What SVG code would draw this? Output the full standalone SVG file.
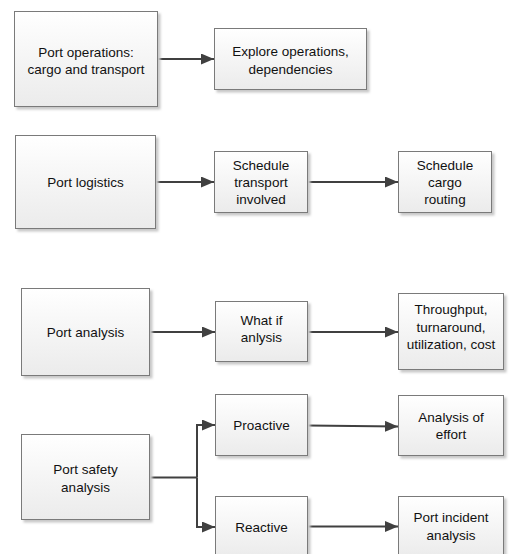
<svg xmlns="http://www.w3.org/2000/svg" width="516" height="554" viewBox="0 0 516 554">
  <defs>
    <linearGradient id="boxFill" x1="0" y1="0" x2="0" y2="1">
      <stop offset="0" stop-color="#ffffff"/>
      <stop offset="1" stop-color="#ebebeb"/>
    </linearGradient>
    <filter id="soft" x="-10%" y="-10%" width="130%" height="130%">
      <feGaussianBlur stdDeviation="1"/>
    </filter>
    <marker id="arrow" viewBox="0 0 13 11" refX="13" refY="5.5" markerWidth="13" markerHeight="11" markerUnits="userSpaceOnUse" orient="auto">
      <path d="M0,0 L13,5.5 L0,11 z" fill="#404040"/>
    </marker>
  </defs>
  <style>
    .shadow { fill: #c8c8c8; filter: url(#soft); }
    .box { fill: url(#boxFill); stroke: #7a7a7a; stroke-width: 1; }
    .label { font-family: "Liberation Sans", Arial, sans-serif; font-size: 13.5px; fill: #111111; text-anchor: middle; dominant-baseline: central; }
    .conn { fill: none; stroke: #404040; stroke-width: 2; }
  </style>
  <rect width="516" height="554" fill="#ffffff"/>

  <!-- connectors -->
  <g id="connectors">
    <path class="conn" d="M158,59 H214" marker-end="url(#arrow)"/>
    <path class="conn" d="M156,182 H214" marker-end="url(#arrow)"/>
    <path class="conn" d="M308,182 H398" marker-end="url(#arrow)"/>
    <path class="conn" d="M150,332 H215" marker-end="url(#arrow)"/>
    <path class="conn" d="M308,332 H398" marker-end="url(#arrow)"/>
    <path class="conn" d="M150,477.5 H197" />
    <path class="conn" d="M197,477.5 V425 H215" marker-end="url(#arrow)"/>
    <path class="conn" d="M197,477.5 V527 H215" marker-end="url(#arrow)"/>
    <path class="conn" d="M308,425.5 L398,426.5" marker-end="url(#arrow)"/>
    <path class="conn" d="M308,526.5 H398" marker-end="url(#arrow)"/>
  </g>

  <!-- nodes -->
  <g id="port-operations">
    <rect class="shadow" x="16.5" y="13.5" width="144" height="96"/>
    <rect class="box" x="14.5" y="11.5" width="143" height="95"/>
    <text class="label" x="86" y="52.5">Port operations:</text>
    <text class="label" x="86" y="69.5">cargo and transport</text>
  </g>
  <g id="explore-operations">
    <rect class="shadow" x="216.5" y="30.5" width="153" height="62"/>
    <rect class="box" x="214.5" y="28.5" width="152" height="61"/>
    <text class="label" x="290.5" y="51.5">Explore operations,</text>
    <text class="label" x="290.5" y="69">dependencies</text>
  </g>

  <g id="port-logistics">
    <rect class="shadow" x="17.5" y="137.5" width="141" height="94"/>
    <rect class="box" x="15.5" y="135.5" width="140" height="93"/>
    <text class="label" x="85.5" y="182">Port logistics</text>
  </g>
  <g id="schedule-transport">
    <rect class="shadow" x="216.5" y="153.5" width="94" height="62"/>
    <rect class="box" x="214.5" y="151.5" width="93" height="61"/>
    <text class="label" x="261" y="165.5">Schedule</text>
    <text class="label" x="261" y="182.5">transport</text>
    <text class="label" x="261" y="199.5">involved</text>
  </g>
  <g id="schedule-cargo">
    <rect class="shadow" x="400.5" y="153.5" width="94" height="62"/>
    <rect class="box" x="398.5" y="151.5" width="93" height="61"/>
    <text class="label" x="445" y="165.5">Schedule</text>
    <text class="label" x="445" y="182.5">cargo</text>
    <text class="label" x="445" y="199.5">routing</text>
  </g>

  <g id="port-analysis">
    <rect class="shadow" x="23.5" y="290.5" width="129" height="88"/>
    <rect class="box" x="21.5" y="288.5" width="128" height="87"/>
    <text class="label" x="85.5" y="332">Port analysis</text>
  </g>
  <g id="what-if">
    <rect class="shadow" x="217.5" y="303.5" width="93" height="61"/>
    <rect class="box" x="215.5" y="301.5" width="92" height="60"/>
    <text class="label" x="261.5" y="320">What if</text>
    <text class="label" x="261.5" y="337">anlysis</text>
  </g>
  <g id="throughput">
    <rect class="shadow" x="400.5" y="295.5" width="106" height="77"/>
    <rect class="box" x="398.5" y="293.5" width="105" height="76"/>
    <text class="label" x="451" y="309.5">Throughput,</text>
    <text class="label" x="451" y="327">turnaround,</text>
    <text class="label" x="451" y="344">utilization, cost</text>
  </g>

  <g id="port-safety">
    <rect class="shadow" x="23.5" y="436.5" width="129" height="86"/>
    <rect class="box" x="21.5" y="434.5" width="128" height="85"/>
    <text class="label" x="85.5" y="469.5">Port safety</text>
    <text class="label" x="85.5" y="487">analysis</text>
  </g>
  <g id="proactive">
    <rect class="shadow" x="217.5" y="396.5" width="93" height="62"/>
    <rect class="box" x="215.5" y="394.5" width="92" height="61"/>
    <text class="label" x="261.5" y="425">Proactive</text>
  </g>
  <g id="analysis-of-effort">
    <rect class="shadow" x="400.5" y="397.5" width="106" height="61"/>
    <rect class="box" x="398.5" y="395.5" width="105" height="60"/>
    <text class="label" x="451" y="417">Analysis of</text>
    <text class="label" x="451" y="434.5">effort</text>
  </g>
  <g id="reactive">
    <rect class="shadow" x="217.5" y="498.5" width="93" height="62"/>
    <rect class="box" x="215.5" y="496.5" width="92" height="61"/>
    <text class="label" x="261.5" y="527">Reactive</text>
  </g>
  <g id="port-incident">
    <rect class="shadow" x="400.5" y="498.5" width="106" height="62"/>
    <rect class="box" x="398.5" y="496.5" width="105" height="61"/>
    <text class="label" x="451" y="517">Port incident</text>
    <text class="label" x="451" y="535">analysis</text>
  </g>
</svg>
